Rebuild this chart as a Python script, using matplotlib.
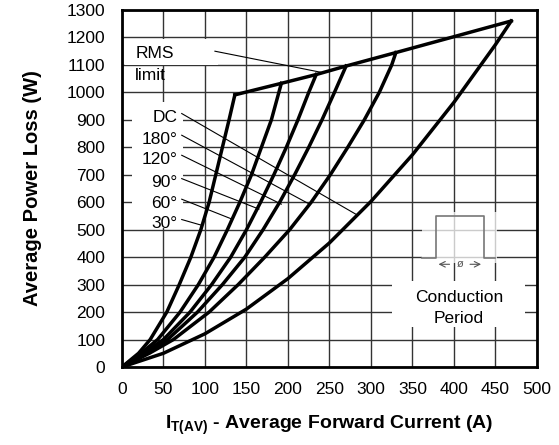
import numpy as np
import matplotlib.pyplot as plt
from matplotlib.patches import Rectangle

plt.rcParams['font.family'] = ['Liberation Sans', 'DejaVu Sans']
plt.rcParams['mathtext.fontset'] = 'custom'
plt.rcParams['mathtext.rm'] = 'Liberation Sans'
plt.rcParams['mathtext.bf'] = 'Liberation Sans:bold'

# curves: average current (A) vs power loss (W)
w_30 = [0, 50, 100, 200, 300, 400, 500, 600, 700, 800, 900, 991]
i_30 = [0, 20, 34, 54, 69, 83, 95, 105, 113, 121, 129, 136]

w_60 = [0, 50, 100, 200, 300, 400, 500, 600, 700, 800, 900, 1033]
i_60 = [0, 23, 43, 70, 92, 111, 127, 142, 156, 168, 180, 192]

w_90 = [0, 50, 100, 200, 300, 400, 500, 600, 700, 800, 900, 1000, 1065]
i_90 = [0, 26, 50, 82, 108, 131, 150, 167, 183, 198, 212, 225, 234]

w_120 = [0, 50, 100, 200, 300, 400, 500, 600, 700, 800, 900, 1000, 1096]
i_120 = [0, 29, 55, 91, 121, 148, 170, 190, 208, 225, 241, 256, 270]

w_180 = [0, 50, 100, 200, 300, 400, 500, 600, 700, 800, 900, 1000, 1100, 1145]
i_180 = [0, 33, 62, 105, 140, 172, 202, 228, 251, 272, 292, 310, 325, 330]

i_dc = [0, 50, 100, 150, 200, 250, 300, 350, 400, 450, 469]
w_dc = [0, 50, 121, 211, 322, 452, 603, 773, 964, 1174, 1260]

# RMS limit line joins the curve ends
i_rms = [136, 192, 234, 270, 330, 469]
w_rms = [991, 1033, 1065, 1096, 1145, 1260]

labels = ['DC', '180°', '120°', '90°', '60°', '30°']
label_w = [908, 829, 756, 671, 596, 522]
leader_end_i = [282, 226, 192, 165, 133, 95]
leader_end_w = [556, 593, 593, 575, 538, 517]

fig = plt.figure(figsize=(5.59, 4.45), dpi=100)
ax = fig.add_axes([0.2182, 0.1753, 0.7424, 0.8022])

ax.set_xlim(0, 500)
ax.set_ylim(0, 1300)
ax.set_xticks(np.arange(0, 501, 50))
ax.set_yticks(np.arange(0, 1301, 100))
ax.grid(True, color='#333333', linewidth=1.0, zorder=0)
ax.set_axisbelow(True)
ax.tick_params(length=0, labelsize=12.5)
ax.tick_params(axis='y', pad=12)
ax.tick_params(axis='x', pad=11)
for s in ax.spines.values():
    s.set_linewidth(2)

lw = 2.5
for ii, ww in [(i_30, w_30), (i_60, w_60), (i_90, w_90), (i_120, w_120),
               (i_180, w_180), (i_dc, w_dc), (i_rms, w_rms)]:
    ax.plot(ii, ww, color='black', linewidth=lw, solid_joinstyle='round', zorder=4)

# white patches that hide the grid behind the labels
ax.add_patch(Rectangle((4, 1100), 112, 95, facecolor='white', edgecolor='none', zorder=1))
ax.add_patch(Rectangle((12, 505), 61, 460, facecolor='white', edgecolor='none', zorder=1))

ax.text(16, 1140, 'RMS', fontsize=12.5, va='center', ha='left', zorder=5)
ax.text(16, 1060, 'limit', fontsize=12.5, va='center', ha='left', zorder=5)
ax.plot([112, 240], [1150, 1073], color='black', linewidth=0.8, zorder=3)

for lab, lw_, ei, ew in zip(labels, label_w, leader_end_i, leader_end_w):
    ax.text(67, lw_, lab, fontsize=12.5, ha='right', va='center', zorder=5)
    ax.plot([72, ei], [lw_ + 15, ew], color='black', linewidth=0.8, zorder=3)

# conduction period icon
ax.add_patch(Rectangle((362, 380), 90, 185, facecolor='white', alpha=0.75,
                       edgecolor='none', zorder=2))
ax.plot([362, 378, 378, 436, 436, 450], [398, 398, 550, 550, 398, 398],
        color='#777777', linewidth=1.2, zorder=3)
ax.annotate('', xy=(378, 374), xytext=(398, 374),
            arrowprops=dict(arrowstyle='->', color='#555555', lw=0.8), zorder=3)
ax.annotate('', xy=(436, 374), xytext=(416, 374),
            arrowprops=dict(arrowstyle='->', color='#555555', lw=0.8), zorder=3)
ax.text(407, 374, 'ø', fontsize=8, ha='center', va='center', color='#555555', zorder=3)
ax.add_patch(Rectangle((325, 145), 161, 167, facecolor='white', edgecolor='none', zorder=2))
ax.text(406, 254, 'Conduction', fontsize=12.5, ha='center', va='center', zorder=5)
ax.text(406, 178, 'Period', fontsize=12.5, ha='center', va='center', zorder=5)

ax.set_xlabel(r'$\mathbf{I_{T(AV)}}$ - Average Forward Current (A)',
              fontsize=14, fontweight='bold', labelpad=12)
ax.set_ylabel('Average Power Loss (W)', fontsize=14.5, fontweight='bold', labelpad=18)

fig.savefig('out.png', dpi=100)
